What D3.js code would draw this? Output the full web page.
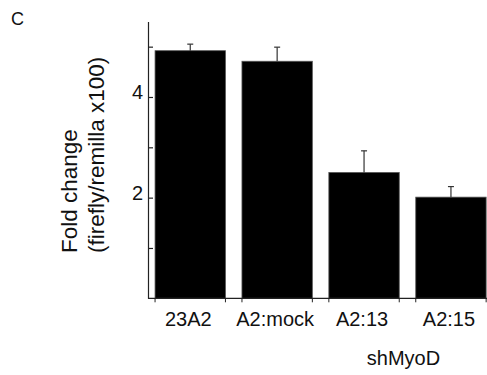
<!DOCTYPE html>
<html>
<head>
<meta charset="utf-8">
<script src="https://cdn.jsdelivr.net/npm/d3@7"></script>
<style>
  html, body { margin: 0; padding: 0; background: #fff; }
  svg { display: block; }
  text { font-family: "Liberation Sans", Arial, sans-serif; fill: #111; }
</style>
</head>
<body>
<svg id="chart" width="487" height="375"></svg>
<script>
const categories = ["23A2", "A2:mock", "A2:13", "A2:15"];
const values = [4.92, 4.71, 2.50, 2.01];
const errors = [0.13, 0.28, 0.43, 0.21];
const yTickValues = [1, 2, 3, 4, 5];
const yTickLabels = ["", "2", "", "4", ""];
const groupLabel = "shMyoD";
const panelLabel = "C";
const yTitleLines = ["Fold change", "(firefly/remilla x100)"];

const svg = d3.select("#chart");
const axisX = 148, axisBottom = 298.3;

const y = d3.scaleLinear().domain([0, 5.5]).range([axisBottom, 21.5]);
const x = d3.scaleBand().domain(categories).range([146.8, 494.4])
  .paddingInner(0.19).paddingOuter(0.095);

// panel letter
svg.append("text").attr("x", 11).attr("y", 25)
  .style("font-size", "18px").text(panelLabel);

// bars
svg.append("g").selectAll("rect").data(categories).join("rect")
  .attr("x", d => x(d))
  .attr("y", (d, i) => y(values[i]))
  .attr("width", x.bandwidth())
  .attr("height", (d, i) => axisBottom - y(values[i]))
  .attr("fill", "#000")
  .attr("stroke", "#555").attr("stroke-width", 0.8);

// error bars
const eg = svg.append("g").attr("stroke", "#333").attr("stroke-width", 1.2);
categories.forEach((c, i) => {
  const cx = x(c) + x.bandwidth() / 2;
  eg.append("line").attr("x1", cx).attr("x2", cx)
    .attr("y1", y(values[i])).attr("y2", y(values[i] + errors[i]));
  eg.append("line").attr("x1", cx - 3).attr("x2", cx + 3)
    .attr("y1", y(values[i] + errors[i])).attr("y2", y(values[i] + errors[i]));
});

// y axis
const yAxis = d3.axisLeft(y).tickValues(yTickValues)
  .tickFormat((d, i) => yTickLabels[i])
  .tickSizeInner(-5).tickSizeOuter(0).tickPadding(5);
const gy = svg.append("g").attr("transform", `translate(${axisX},0)`).call(yAxis);
gy.select(".domain").attr("stroke", "#222").attr("stroke-width", 1.2);
gy.selectAll(".tick line").attr("stroke", "#222").attr("stroke-width", 1.2);
gy.selectAll(".tick text").style("font-size", "20px")
  .style("font-family", "'Liberation Sans', Arial, sans-serif")
  .attr("fill", "#111").attr("dy", "0.1em");

// x axis baseline with ticks at bar edges
svg.append("line").attr("x1", axisX).attr("x2", 487)
  .attr("y1", axisBottom).attr("y2", axisBottom)
  .attr("stroke", "#222").attr("stroke-width", 1.2);
const edges = [];
categories.forEach(c => { edges.push(x(c)); edges.push(x(c) + x.bandwidth()); });
svg.append("g").selectAll("line").data(edges).join("line")
  .attr("x1", d => d).attr("x2", d => d)
  .attr("y1", axisBottom).attr("y2", axisBottom + 4)
  .attr("stroke", "#222").attr("stroke-width", 1);

// x labels
svg.append("g").selectAll("text").data(categories).join("text")
  .attr("x", d => x(d) + x.bandwidth() / 2 - 2)
  .attr("y", 326)
  .attr("text-anchor", "middle")
  .style("font-size", "20px")
  .text(d => d);

// group label
const gx = (x("A2:13") + x("A2:15") + x.bandwidth()) / 2 - 4;
svg.append("text").attr("x", gx).attr("y", 365)
  .attr("text-anchor", "middle").style("font-size", "20px").text(groupLabel);

// y title
const yt = svg.append("text")
  .attr("transform", "translate(0,253) rotate(-90)")
  .style("font-size", "22.5px");
yt.append("tspan").attr("x", 0).attr("y", 76.5).text(yTitleLines[0]);
yt.append("tspan").attr("x", 0).attr("y", 104).text(yTitleLines[1]);
</script>
</body>
</html>
